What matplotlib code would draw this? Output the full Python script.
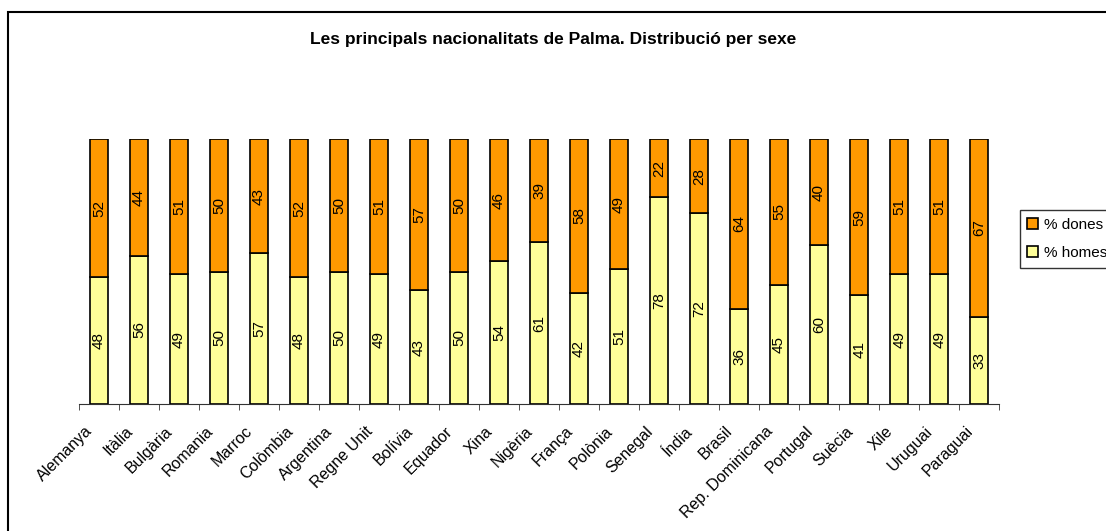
import numpy as np
import matplotlib.pyplot as plt
import matplotlib.transforms as mtransforms
from matplotlib.patches import Rectangle

plt.rcParams['font.family'] = ['Liberation Sans', 'DejaVu Sans']

# Data
countries = ['Alemanya', 'Itàlia', 'Bulgària', 'Romania', 'Marroc', 'Colòmbia',
             'Argentina', 'Regne Unit', 'Bolívia', 'Equador', 'Xina', 'Nigèria',
             'França', 'Polònia', 'Senegal', 'Índia', 'Brasil', 'Rep. Dominicana',
             'Portugal', 'Suècia', 'Xile', 'Uruguai', 'Paraguai']
homes = [48, 56, 49, 50, 57, 48, 50, 49, 43, 50, 54, 61, 42, 51, 78, 72, 36, 45, 60, 41, 49, 49, 33]
dones = [52, 44, 51, 50, 43, 52, 50, 51, 57, 50, 46, 39, 58, 49, 22, 28, 64, 55, 40, 59, 51, 51, 67]

fig = plt.figure(figsize=(11.06, 5.31), dpi=100)
ax = fig.add_axes([0.0714, 0.239, 0.832, 0.499])

x = np.arange(len(countries))
b1 = ax.bar(x, homes, width=0.44, color='#FFFF99', edgecolor='black', linewidth=1.2, label='% homes')
b2 = ax.bar(x, dones, width=0.44, bottom=homes, color='#FF9900', edgecolor='black', linewidth=1.2, label='% dones')

for i in range(len(countries)):
    ax.text(x[i], homes[i] / 2, str(homes[i]), rotation=90, ha='center', va='center', fontsize=11)
    ax.text(x[i], homes[i] + dones[i] / 2, str(dones[i]), rotation=90, ha='center', va='center', fontsize=11)

ax.set_xlim(-0.5, len(countries) - 0.5)
ax.set_ylim(0, 100)
for s in ['top', 'right', 'left']:
    ax.spines[s].set_visible(False)
ax.spines['bottom'].set_color('#333333')
ax.set_yticks([])
ax.set_xticks(x)
ax.set_xticklabels(countries, rotation=45, ha='right', rotation_mode='anchor', fontsize=11.5)
ax.tick_params(axis='x', which='major', length=0, pad=14)
ax.set_xticks(np.arange(-0.5, len(countries)), minor=True)
ax.tick_params(axis='x', which='minor', length=4, color='#333333')

# shift tick labels a bit left like the original
offset = mtransforms.ScaledTranslation(-14 / 100, 0, fig.dpi_scale_trans)
for lab in ax.get_xticklabels():
    lab.set_transform(lab.get_transform() + offset)

fig.text(0.5, 0.925, 'Les principals nacionalitats de Palma. Distribució per sexe',
         ha='center', va='center', fontsize=12.5, fontweight='bold')

leg = ax.legend(handles=[b2, b1], loc='center left',
                bbox_to_anchor=(1012 / 1106, 1 - 239 / 531), bbox_transform=fig.transFigure,
                frameon=True, fontsize=11, handlelength=0.7, handleheight=0.7,
                borderpad=0.5, labelspacing=0.9, handletextpad=0.4, fancybox=False)
leg.get_frame().set_edgecolor('black')
leg.get_frame().set_linewidth(1.0)

# chart border (only top and left edges fall inside the image)
fig.add_artist(Rectangle((7.5 / 1106, -0.1), 1.2, 1.1 - 12.5 / 531, transform=fig.transFigure,
                         fill=False, edgecolor='black', linewidth=1.5))

fig.savefig('out.png', dpi=100)
